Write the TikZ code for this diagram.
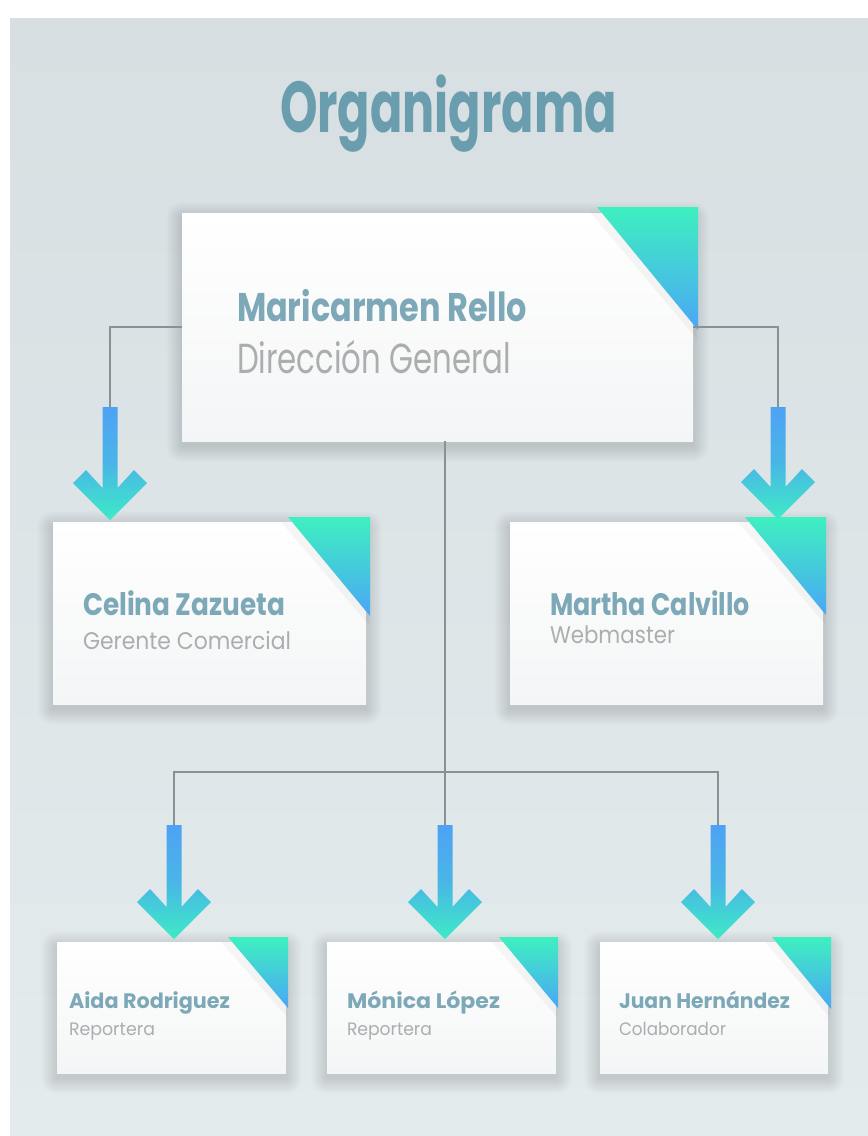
\documentclass[tikz,border=0pt]{standalone}
\usepackage{fontspec}
\setmainfont{Poppins}
\usepackage{graphicx}
\usetikzlibrary{calc}
\definecolor{titlec}{HTML}{6A9EAF}
\definecolor{namec}{HTML}{7DA8B8}
\definecolor{rolec}{HTML}{ABADAF}
\definecolor{linec}{HTML}{8A9196}
\definecolor{arrblue}{HTML}{4EA2F5}
\definecolor{arrmid}{HTML}{49B6E6}
\definecolor{arrgreen}{HTML}{3DEBC6}
\definecolor{tribl}{HTML}{4AA6F6}
\definecolor{trigr}{HTML}{3EF0C0}
\definecolor{panelt}{HTML}{D8DFE2}
\definecolor{panelb}{HTML}{E4EBED}
\definecolor{boxb}{HTML}{F4F5F6}
\pgfdeclarelayer{panel}
\pgfdeclarelayer{shadow}
\pgfsetlayers{panel,shadow,main}
\newcommand\fitt[3]{\resizebox{#1pt}{\height}{\fontsize{#2}{#2}\selectfont #3}}
\newcommand\orgarrow[3]{%
  \shade[top color=arrblue, bottom color=arrgreen, middle color=arrmid]
    ({#1-7.5},#2) -- ({#1+7.5},#2) -- ({#1+7.5},{#3-32})
    -- ({#1+24},{#3-50}) -- ({#1+37},{#3-37}) -- (#1,#3)
    -- ({#1-37},{#3-37}) -- ({#1-24},{#3-50}) -- ({#1-7.5},{#3-32}) -- cycle;}
\newcommand\orgtri[4]{% x1 x2 y1 y2
  \fill[black,opacity=0.035] ({#1-7},{#3+5}) -- ({#2},{#3+5}) -- ({#2-1},{#4+9}) -- cycle;
  \shade[top color=trigr, bottom color=tribl] (#1,#3) -- (#2,#3) -- (#2,#4) -- cycle;}
\tikzset{
  orgbox/.style={top color=white, bottom color=boxb, inner sep=0pt, outer sep=0pt, draw=none},
  conn/.style={draw=linec, line width=1.4pt},
  txt/.style={anchor=base west, inner sep=0pt, outer sep=0pt},
  namet/.style={txt, text=namec},
  rolet/.style={txt, text=rolec}
}
\begin{document}
\begin{tikzpicture}[x=1pt,y=-1pt]
\useasboundingbox (0,0) rectangle (868,1136);
\begin{pgfonlayer}{panel}
  \fill[white] (0,0) rectangle (868,1136);
  \shade[top color=panelt, bottom color=panelb] (10,18) rectangle (868,1136);
\end{pgfonlayer}

% title
\node[txt, text=titlec] (title) at (280,132) {\fitt{337}{72}{\bfseries Organigrama}};

% boxes
\node[orgbox, minimum width=511pt, minimum height=228pt] (top) at (437.5,327) {};
\node[orgbox, minimum width=313pt, minimum height=182pt] (midL) at (209.5,613) {};
\node[orgbox, minimum width=313pt, minimum height=182pt] (midR) at (666.5,613) {};
\node[orgbox, minimum width=229pt, minimum height=131pt] (bot1) at (171.5,1007.5) {};
\node[orgbox, minimum width=229pt, minimum height=131pt] (bot2) at (441.5,1007.5) {};
\node[orgbox, minimum width=228pt, minimum height=131pt] (bot3) at (714,1007.5) {};

% soft shadows
\begin{pgfonlayer}{shadow}
\foreach \n in {top,midL,midR,bot1,bot2,bot3}{
  \foreach \d in {1,2,...,16}{
    \fill[black,opacity=0.0085,rounded corners=\d] ([shift={(-\d,{-\d+5})}]\n.north west) rectangle ([shift={(\d,{\d+5})}]\n.south east);
  }
}
\end{pgfonlayer}

% corner triangles
\orgtri{597}{698}{207}{330}
\orgtri{288}{370}{517}{616}
\orgtri{745}{826}{517}{615}
\orgtri{228}{288}{937}{1008}
\orgtri{499}{558}{937}{1008}
\orgtri{772}{831}{937}{1009}

% texts
\node[namet] (n0) at (237,321) {\fitt{290}{40}{\bfseries Maricarmen Rello}};
\node[rolet] (r0) at (237,373) {\fitt{274}{42}{Dirección General}};
\node[namet] (n1) at (83,615) {\fitt{202}{31}{\bfseries Celina Zazueta}};
\node[rolet] (r1) at (83,649) {\fitt{208}{24}{Gerente Comercial}};
\node[namet] (n2) at (550,615) {\fitt{200}{31}{\bfseries Martha Calvillo}};
\node[rolet] (r2) at (550,643) {\fitt{125}{24}{Webmaster}};
\node[namet] (n3) at (69,1008) {\fitt{161}{21}{\bfseries Aida Rodriguez}};
\node[rolet] (r3) at (69,1035) {\fitt{86}{18}{Reportera}};
\node[namet] (n4) at (347,1008) {\fitt{153}{21}{\bfseries Mónica López}};
\node[rolet] (r4) at (347,1035) {\fitt{85}{18}{Reportera}};
\node[namet] (n5) at (619,1008) {\fitt{171}{21}{\bfseries Juan Hernández}};
\node[rolet] (r5) at (619,1035) {\fitt{107}{18}{Colaborador}};

% connector end points (arrow tops)
\coordinate (aL) at (110,407);
\coordinate (aR) at (778,407);
\coordinate (j) at (445,772);
\coordinate (b1) at (174,825);
\coordinate (b2) at (445,825);
\coordinate (b3) at (718,825);

\draw[conn] (top.west) -| (aL);
\draw[conn] (top.east) -| (aR);
\draw[conn] (top.south -| j) -- (b2);
\draw[conn] (b1) -- (b1 |- j) -- (b3 |- j) -- (b3);

% arrows
\orgarrow{110}{407}{520}
\orgarrow{778}{407}{519}
\orgarrow{174}{825}{939}
\orgarrow{445}{825}{939}
\orgarrow{718}{825}{939}
\end{tikzpicture}
\end{document}
